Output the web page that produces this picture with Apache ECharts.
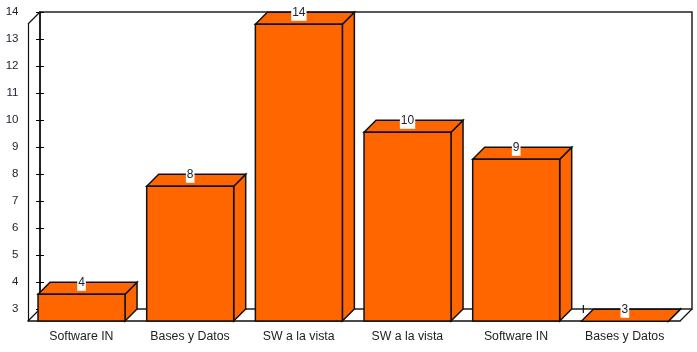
<!DOCTYPE html>
<html><head><meta charset="utf-8">
<style>html,body{margin:0;padding:0;background:#fff}#c{width:697px;height:352px}</style>
<script src="https://cdn.jsdelivr.net/npm/echarts@6/dist/echarts.min.js"></script>
</head><body><div id="c"></div>
<script>
const categories = ['Software IN','Bases y Datos','SW a la vista','SW a la vista','Software IN','Bases y Datos'];
const values = [4,8,14,10,9,3];
const yMin = 3, yMax = 14;
const DEPTH = 12, BAR_W = 87, LINE = '#000', ORANGE = '#FF6600';
const font = {fontFamily:'"Liberation Sans",Arial,sans-serif',fontSize:12.3,color:'#222'};

const chart = echarts.init(document.getElementById('c'),null,{renderer:'canvas'});
const yBase = {type:'value',min:yMin,max:yMax,interval:1,splitLine:{show:false}};
const xBase = {type:'category',data:categories,splitLine:{show:false}};

function renderBar(params, api){
  const i = api.value(0), v = api.value(1);
  const top = api.coord([i,v]), base = api.coord([i,yMin]);
  const cx = top[0]-0.8, l = cx-BAR_W/2, r = cx+BAR_W/2, t = top[1]+0.3, b = base[1], d = DEPTH;
  const st = {fill:ORANGE,stroke:'#111',lineWidth:1.5,lineJoin:'miter'};
  const poly = pts => ({type:'polygon',shape:{points:pts},style:st});
  const children = [
    poly([[r,b],[r+d,b-d],[r+d,t-d],[r,t]]),
    poly([[l,t],[l+d,t-d],[r+d,t-d],[r,t]])
  ];
  if (b-t>1) children.push(poly([[l,t],[r,t],[r,b],[l,b]]));
  children.push({type:'text',z2:10,style:{
    text:String(v),x:cx,y:t-d+0.5,align:'center',verticalAlign:'middle',
    fontFamily:font.fontFamily,fontSize:12,fill:'#223',backgroundColor:'#fff',padding:[0,1,4,1]
  }});
  return {type:'group',children};
}
function renderFrame(params, api){
  const c = params.coordSys, x=c.x, y=c.y, w=c.width, h=c.height, d=DEPTH;
  const ln = (a,b,cc,e)=>({type:'line',shape:{x1:a,y1:b,x2:cc,y2:e},style:{stroke:'#111',lineWidth:1.2}});
  const band = w/categories.length;
  const ticks = categories.map((_,k)=>ln(x+k*band,y+h-4,x+k*band,y+h+4));
  return {type:'group',children:[
    ln(x,y,x-d,y+d), ln(x,y+h,x-d,y+h+d), ln(x+w,y+h,x+w-d,y+h+d), ...ticks
  ]};
}

chart.setOption({
  animation:false,
  backgroundColor:'#fff',
  grid:[
    {left:40,top:12,width:652,height:297,show:true,borderColor:'#222',borderWidth:1.5,backgroundColor:'#fff'},
    {left:28,top:24,width:652,height:297}
  ],
  xAxis:[
    {...xBase,gridIndex:0,position:'bottom',axisLabel:{show:false},axisLine:{show:false},axisTick:{show:false}},
    {...xBase,gridIndex:1,position:'bottom',axisLine:{show:true,lineStyle:{color:'#111',width:1.5}},axisTick:{show:false},
      axisLabel:{...font,margin:10,interval:0,padding:[0,2,0,0]}}
  ],
  yAxis:[
    {...yBase,gridIndex:0,position:'left',axisLine:{show:true,lineStyle:{color:'#111',width:1.5}},
      axisTick:{show:true,length:4,lineStyle:{color:LINE}},
      axisLabel:{...font,fontSize:11.5,color:'#223',margin:21.5,align:'right',padding:[0,0,2,0],showMinLabel:true,showMaxLabel:true}},
    {...yBase,gridIndex:0,position:'left',axisLine:{show:false},axisLabel:{show:false},
      axisTick:{show:true,inside:true,length:4,lineStyle:{color:LINE}}},
    {...yBase,gridIndex:1,position:'left',axisLine:{show:true,lineStyle:{color:'#111',width:1.2}},axisTick:{show:false},axisLabel:{show:false}}
  ],
  series:[
    {type:'custom',name:'frame',xAxisIndex:0,yAxisIndex:0,renderItem:renderFrame,data:[[0,yMin]],silent:true,z:3},
    {type:'custom',name:'values',xAxisIndex:1,yAxisIndex:2,renderItem:renderBar,
      data:values.map((v,i)=>[i,v]),encode:{x:0,y:1},silent:true,z:5}
  ]
});
</script></body></html>
